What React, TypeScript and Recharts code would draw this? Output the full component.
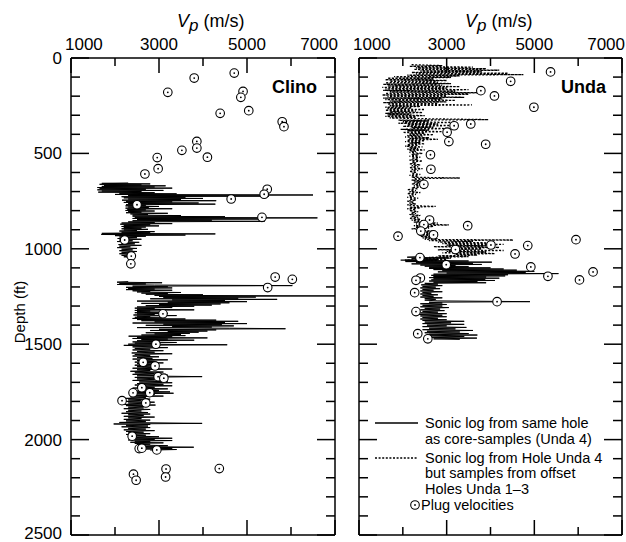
import React from "react";
import { ScatterChart, Scatter, XAxis, YAxis } from "recharts";

const FONT = '"Liberation Sans", Arial, Helvetica, sans-serif';

const vpTicks = [1000, 2000, 3000, 4000, 5000, 6000, 7000];
const depthTicks = [
  0, 100, 200, 300, 400, 500, 600, 700, 800, 900, 1000, 1100, 1200, 1300,
  1400, 1500, 1600, 1700, 1800, 1900, 2000, 2100, 2200, 2300, 2400, 2500,
];

// [depth ft, Vp m/s]
const clinoLogUpper = [
  [655, 2300], [657, 1700], [660, 2800], [662, 1650], [665, 2600], [668, 1750], [670, 3150], [673, 1700],
  [676, 2900], [679, 1600], [682, 3300], [685, 1650], [688, 2700], [691, 1600], [694, 3100], [697, 1700],
  [700, 2600], [703, 1620], [706, 2900], [709, 2100], [712, 3400], [715, 2000], [718, 6500], [721, 2300],
  [724, 5500], [727, 2150], [730, 3600], [733, 2200], [736, 4000], [739, 2300], [742, 3500], [745, 2160],
  [748, 4300], [751, 2250], [754, 3300], [757, 2200], [760, 3900], [763, 2300], [766, 4280], [769, 2250],
  [772, 2700], [775, 2240], [778, 3000], [781, 2300], [784, 2766], [787, 2240], [790, 3300], [793, 2280],
  [796, 2700], [799, 2240], [802, 2900], [805, 2300], [808, 2600], [811, 2250], [814, 3200], [817, 2350],
  [820, 2750], [823, 2400], [826, 3500], [829, 2400], [832, 4500], [835, 2450], [838, 6600], [841, 2400],
  [844, 5400], [847, 2500], [850, 4200], [853, 2400], [856, 5400], [859, 2300], [862, 2900], [865, 2150],
  [868, 3300], [871, 2120], [874, 2800], [877, 2200], [880, 3000], [883, 2150], [886, 2700], [889, 2200],
  [892, 2600], [895, 2150], [898, 2750], [901, 2200], [904, 2500], [907, 2100], [910, 2900], [913, 2150],
  [916, 2800], [919, 1700], [922, 4280], [925, 1690], [928, 3600], [931, 2000], [934, 2700], [938, 2100],
  [942, 2500], [946, 2060], [950, 2600], [954, 2100], [958, 2400], [962, 2050], [966, 2550], [970, 2150],
  [974, 2450], [978, 2080], [982, 2600], [986, 2100], [990, 2350], [994, 2050], [998, 2500], [1002, 2150],
  [1006, 2400], [1010, 2100], [1014, 2500], [1018, 2150], [1022, 2350], [1026, 2100], [1030, 2450],
  [1034, 2150], [1038, 2300], [1042, 2200], [1045, 2350],
];

const clinoLogLower = [
  [1172, 2300], [1175, 2046], [1178, 3070], [1181, 2100], [1184, 2700], [1187, 2050], [1190, 2900],
  [1193, 6030], [1196, 2400], [1199, 3200], [1202, 2250], [1205, 3300], [1208, 2300], [1211, 2900],
  [1214, 2250], [1217, 3300], [1220, 2400], [1223, 2800], [1226, 2500], [1229, 3500], [1232, 2600],
  [1235, 3200], [1238, 2700], [1241, 4000], [1244, 2900], [1247, 7000], [1250, 3000], [1253, 5200],
  [1256, 3100], [1259, 4800], [1262, 2800], [1265, 5685], [1268, 3300], [1271, 4500], [1274, 2500],
  [1277, 5000], [1280, 3200], [1283, 4600], [1286, 2600], [1289, 4400], [1292, 3000], [1295, 4200],
  [1298, 2700], [1301, 3800], [1305, 2500], [1308, 3300], [1311, 2450], [1314, 2900], [1317, 2500],
  [1320, 3800], [1323, 2450], [1326, 2800], [1329, 2500], [1332, 3000], [1335, 2450], [1338, 3200],
  [1341, 2500], [1344, 2900], [1347, 2420], [1350, 3400], [1353, 2500], [1356, 2800], [1359, 2450],
  [1362, 3100], [1365, 2400], [1368, 3600], [1371, 2500], [1374, 4300], [1377, 2600], [1380, 4800],
  [1383, 2900], [1386, 4500], [1389, 2400], [1392, 5000], [1395, 3100], [1398, 4430], [1401, 2700],
  [1404, 4700], [1407, 3300], [1410, 4200], [1413, 2500], [1416, 4600], [1419, 5874], [1422, 3000],
  [1425, 4300], [1428, 2800], [1431, 4100], [1434, 3200], [1437, 3900], [1440, 2700], [1443, 3700],
  [1446, 2900], [1449, 3500], [1452, 2600], [1455, 3600], [1458, 2310], [1461, 3300], [1464, 2500],
  [1467, 4100], [1470, 2400], [1473, 3200], [1476, 2600], [1479, 3800], [1482, 2500], [1485, 3000],
  [1488, 2400], [1491, 3400], [1494, 2450], [1497, 3000], [1500, 2300], [1503, 4550], [1506, 2200],
  [1510, 2900], [1514, 2400], [1518, 3200], [1522, 2450], [1526, 2800], [1530, 2400], [1534, 3100],
  [1538, 2500], [1542, 2900], [1546, 2380], [1550, 3300], [1554, 2450], [1558, 2800], [1562, 2400],
  [1566, 3000], [1570, 2500], [1574, 2850], [1578, 2400], [1582, 3200], [1586, 2500], [1590, 2900],
  [1594, 2450], [1598, 3100], [1602, 2500], [1606, 2850], [1610, 2450], [1614, 3000], [1618, 2500],
  [1622, 2900], [1626, 2400], [1630, 3300], [1634, 2500], [1638, 2800], [1642, 2350], [1646, 3100],
  [1650, 2450], [1654, 2900], [1658, 2400], [1662, 3200], [1666, 2500], [1670, 3980], [1674, 2450],
  [1678, 3000], [1682, 2500], [1686, 2900], [1690, 2400], [1694, 3200], [1698, 2550], [1702, 3300],
  [1706, 2500], [1710, 3100], [1714, 2450], [1718, 3300], [1722, 2500], [1726, 2900], [1730, 2400],
  [1734, 3200], [1738, 2550], [1742, 3000], [1746, 2450], [1750, 3250], [1754, 2500], [1757, 3330],
  [1760, 2400], [1764, 2900], [1768, 2450], [1772, 3100], [1776, 2350], [1780, 2700], [1784, 2200],
  [1788, 2800], [1792, 2300], [1796, 2600], [1800, 2200], [1804, 2900], [1808, 2300], [1812, 2600],
  [1816, 2160], [1819, 2920], [1822, 2250], [1826, 2700], [1830, 2300], [1834, 2650], [1838, 2200],
  [1842, 2800], [1846, 2300], [1850, 2600], [1854, 2250], [1858, 2750], [1862, 2150], [1866, 2800],
  [1870, 2300], [1874, 2650], [1878, 2200], [1882, 2900], [1886, 2300], [1890, 2600], [1894, 2200],
  [1898, 2800], [1902, 2250], [1906, 2700], [1910, 2100], [1915, 3980], [1918, 1970], [1921, 2800],
  [1925, 2250], [1929, 2750], [1933, 2150], [1937, 2800], [1941, 2300], [1945, 2700], [1949, 2200],
  [1953, 2900], [1957, 2250], [1961, 2650], [1965, 2300], [1969, 2800], [1973, 2250], [1977, 2700],
  [1981, 2300], [1985, 3000], [1989, 2350], [1993, 3300], [1996, 2400], [1999, 2900], [2002, 2300],
  [2005, 3300], [2008, 2450], [2011, 2800], [2014, 2350], [2017, 3100], [2020, 2450], [2024, 2800],
  [2028, 2500], [2032, 3200], [2036, 2550], [2040, 3790], [2043, 2600], [2046, 3300], [2049, 2700],
  [2052, 3400], [2055, 2800],
];

const clinoPlugs = [
  [79, 4710], [105, 3800], [180, 3200], [175, 4910], [206, 4860], [276, 5040], [290, 4390], [334, 5800],
  [360, 5840], [437, 3860], [472, 3860], [484, 3520], [520, 4100], [522, 2960], [580, 2980], [608, 2680],
  [688, 5460], [714, 5390], [739, 4640], [769, 2500], [835, 5340], [954, 2220], [1038, 2370], [1079, 2360],
  [1148, 5640], [1160, 6030], [1203, 5470], [1341, 3090], [1500, 2930], [1595, 2640], [1614, 2910],
  [1670, 2980], [1678, 3110], [1728, 2610], [1755, 2410], [1754, 2790], [1796, 2160], [1808, 2700],
  [1982, 2390], [2047, 2550], [2045, 2610], [2054, 2950], [2154, 3160], [2152, 4370], [2181, 2420],
  [2196, 3150], [2213, 2480],
];

const undaLogOffset = [
  [35, 2200], [40, 2900], [44, 2150], [48, 3600], [52, 2300], [56, 3900], [60, 2250], [64, 4200],
  [68, 2400], [72, 3800], [76, 2200], [80, 4400], [84, 2300], [87, 4750], [90, 2100], [94, 3300],
  [98, 1800], [102, 3100], [106, 1650], [110, 2700], [114, 1600], [118, 3000], [122, 1700], [126, 2800],
  [130, 1600], [134, 3100], [138, 1550], [142, 2900], [146, 1650], [150, 3300], [154, 1530], [158, 3000],
  [162, 1600], [166, 3500], [170, 1550], [174, 3200], [178, 1700], [182, 3800], [186, 1600], [190, 3500],
  [194, 1530], [198, 3000], [202, 1650], [206, 3400], [210, 1550], [214, 2900], [218, 1600], [222, 3200],
  [226, 1700], [230, 3000], [234, 1550], [238, 2800], [242, 1650], [246, 3577], [250, 1700], [254, 2400],
  [258, 1600], [262, 2200], [266, 1650], [270, 2500], [274, 1600], [278, 2300], [282, 1700], [286, 2450],
  [290, 1600], [294, 2200], [298, 1650], [302, 2500], [306, 1600], [310, 2300], [314, 1700], [318, 2400],
  [323, 3950], [326, 1900], [330, 2600], [334, 2000], [338, 3100], [342, 1900], [346, 2800], [350, 2100],
  [354, 3200], [358, 2000], [362, 2700], [366, 2200], [370, 3000], [374, 1950], [378, 2600], [382, 2100],
  [386, 2900], [390, 2000], [394, 2500], [398, 2150], [402, 2700], [406, 2100], [410, 2450], [414, 2050],
  [418, 2600], [422, 2150], [426, 2800], [430, 2100], [434, 2500], [438, 2050], [442, 2400], [446, 2150],
  [450, 2500], [454, 2100], [458, 2350], [462, 2050], [466, 2450], [470, 2150], [474, 2350], [478, 2100],
  [482, 2500], [486, 2150], [490, 2300], [495, 2150], [500, 2450], [505, 2200], [510, 2350], [515, 2150],
  [520, 2400], [525, 2200], [530, 2350], [535, 2150], [540, 2450], [545, 2200], [550, 2300], [555, 2150],
  [560, 2400], [565, 2200], [570, 2350], [575, 2150], [580, 2450], [585, 2200], [590, 2350], [595, 2150],
  [600, 2300], [605, 2200], [610, 2400], [615, 2150], [620, 2350], [625, 2200], [629, 3300], [632, 2250],
  [636, 2500], [640, 2200], [645, 2450], [650, 2250], [655, 2550], [660, 2200], [665, 2400], [670, 2250],
  [675, 2500], [680, 2200], [685, 2350], [690, 2100], [695, 2300], [700, 2150], [705, 2400], [710, 2100],
  [715, 2300], [720, 2150], [725, 2250], [730, 2100], [735, 2350], [740, 2150], [745, 2300], [750, 2100],
  [755, 2250], [760, 2150], [765, 2300], [770, 2100], [775, 2350], [778, 2750], [782, 2150], [786, 2400],
  [790, 2100], [795, 2300], [800, 2150], [805, 2350], [810, 2200], [815, 2300], [820, 2150], [825, 2400],
  [830, 2200], [835, 2350], [840, 2150], [845, 2400], [850, 2200], [855, 2600], [860, 2250], [865, 2800],
  [870, 2300], [875, 3050], [879, 2250], [883, 2700], [887, 2300], [891, 2600], [895, 2200], [899, 2500],
  [903, 2400], [907, 2700], [911, 2350], [915, 2800], [919, 2400], [923, 2600], [927, 2350], [931, 2750],
  [935, 2400], [939, 2650], [943, 2450], [947, 2800], [951, 2500], [954, 4520], [957, 2600], [961, 3600],
  [965, 2800], [969, 4000], [973, 2900], [977, 4300], [981, 3000], [985, 3900], [989, 2700], [993, 4200],
  [997, 3100], [1001, 3800], [1005, 2800], [1009, 4300], [1013, 3000], [1017, 3900], [1021, 2900],
  [1025, 4100], [1029, 3200], [1033, 3700], [1037, 2800], [1041, 3500], [1045, 2600], [1049, 3100],
  [1053, 2300], [1057, 3000], [1059, 1950], [1062, 2800],
];

const undaLogSame = [
  [1040, 2500], [1044, 2100], [1048, 3000], [1052, 2200], [1056, 2800], [1060, 2050], [1064, 3500],
  [1067, 2060], [1070, 4030], [1073, 2300], [1076, 3600], [1079, 2200], [1082, 3800], [1085, 2400],
  [1088, 3200], [1091, 2500], [1094, 3500], [1097, 2600], [1100, 4000], [1103, 2600], [1106, 4300],
  [1109, 2700], [1112, 4600], [1115, 2900], [1118, 5000], [1121, 2800], [1124, 4800], [1127, 3000],
  [1130, 5550], [1133, 2700], [1136, 4400], [1139, 2650], [1142, 4335], [1145, 2700], [1148, 3900],
  [1151, 2600], [1154, 4200], [1157, 2700], [1160, 3880], [1163, 2650], [1166, 4100], [1169, 2600],
  [1172, 3700], [1175, 2700], [1178, 3900], [1181, 2500], [1185, 2800], [1189, 2420], [1193, 2900],
  [1197, 2450], [1201, 2750], [1205, 2400], [1209, 2850], [1213, 2450], [1217, 2700], [1221, 2400],
  [1225, 2900], [1229, 2450], [1233, 2650], [1237, 2400], [1241, 2800], [1245, 2450], [1249, 2700],
  [1253, 2400], [1257, 2900], [1261, 2500], [1265, 2750], [1269, 2500], [1273, 2800], [1277, 4900],
  [1280, 2600], [1284, 2900], [1288, 2400], [1292, 3000], [1296, 2450], [1300, 2900], [1304, 2400],
  [1308, 3050], [1312, 2500], [1316, 2850], [1320, 2400], [1324, 2950], [1328, 2450], [1332, 2800],
  [1336, 2400], [1340, 3000], [1344, 2350], [1348, 2900], [1352, 2400], [1356, 3000], [1360, 2450],
  [1364, 2800], [1368, 2400], [1372, 3000], [1376, 2450], [1380, 3400], [1384, 2500], [1388, 3100],
  [1392, 2450], [1396, 3400], [1400, 2550], [1404, 3000], [1408, 2450], [1412, 3450], [1416, 2600],
  [1420, 3200], [1424, 2450], [1428, 3600], [1432, 2550], [1436, 3300], [1440, 2500], [1444, 3500],
  [1448, 2600], [1452, 3700], [1456, 2500], [1460, 3400], [1464, 2600], [1468, 3690], [1472, 2700],
  [1475, 3300],
];

const undaPlugs = [
  [73, 5370], [122, 4460], [171, 3780], [199, 4090], [258, 4990], [355, 3170], [346, 3550], [389, 3010],
  [438, 3050], [452, 3890], [507, 2630], [583, 2640], [662, 2480], [849, 2610], [873, 2480], [879, 3480],
  [934, 1890], [907, 2410], [927, 2700], [952, 5950], [980, 4010], [983, 4850], [1004, 3200], [1027, 4560],
  [1046, 2390], [1083, 2990], [1095, 4920], [1121, 6340], [1144, 5310], [1153, 2400], [1165, 2300],
  [1163, 6030], [1230, 2270], [1277, 4150], [1329, 2300], [1445, 2340], [1472, 2570],
];

const pts = (rows: number[][]) => rows.map(([depth, vp]) => ({ depth, vp }));

const TICK = { stroke: "#000", strokeWidth: 1.5 };
const AXIS_LINE = { stroke: "#000", strokeWidth: 1.5 };

const TopTick = (props: any) => {
  const { x, y, payload } = props;
  const v = payload.value;
  const major = (v / 1000) % 2 === 1;
  let anchor = "middle";
  let tx = x;
  if (v === vpTicks[0]) {
    anchor = "start";
    tx = x - 6;
  } else if (v === vpTicks[vpTicks.length - 1]) {
    anchor = "end";
    tx = x + 3;
  }
  return (
    <g>
      <line x1={x} y1={y} x2={x} y2={y + (major ? 15 : 8)} {...TICK} />
      {major ? (
        <text x={tx} y={y - 8} textAnchor={anchor} fontSize={17} fontFamily={FONT} fill="#000">
          {v}
        </text>
      ) : null}
    </g>
  );
};

const BottomTick = (props: any) => {
  const { x, y, payload } = props;
  const major = (payload.value / 1000) % 2 === 1;
  return <line x1={x} y1={y} x2={x} y2={y - (major ? 15 : 8)} {...TICK} />;
};

const LeftTick = (props: any) => {
  const { x, y, payload, showLabels } = props;
  const v = payload.value;
  const major = v % 500 === 0;
  return (
    <g>
      <line x1={x} y1={y} x2={x + (major ? 18 : 9)} y2={y} {...TICK} />
      {showLabels && major ? (
        <text x={x - 9} y={y + (v === 2500 ? 4 : 6)} textAnchor="end" fontSize={17} fontFamily={FONT} fill="#000">
          {v}
        </text>
      ) : null}
    </g>
  );
};

const RightTick = (props: any) => {
  const { x, y, payload } = props;
  const major = payload.value % 500 === 0;
  return <line x1={x} y1={y} x2={x - (major ? 18 : 9)} y2={y} {...TICK} />;
};

const VpTitle = (props: any) => {
  const { viewBox } = props;
  return (
    <text x={viewBox.x + 106} y={27} fontSize={18} fontFamily={FONT} fill="#000">
      <tspan fontStyle="italic">V</tspan>
      <tspan fontStyle="italic" fontSize={17} dy={4}>p</tspan>
      <tspan dy={-4}> (m/s)</tspan>
    </text>
  );
};

const DepthTitle = () => (
  <text x={25} y={312} transform="rotate(-90 25 312)" textAnchor="middle" fontSize={15} fontFamily={FONT} fill="#000">
    Depth (ft)
  </text>
);

const PlugMarker = (props: any) => {
  const { cx, cy } = props;
  if (cx == null || cy == null) return <g />;
  return (
    <g>
      <circle cx={cx} cy={cy} r={4.3} fill="#fff" stroke="#000" strokeWidth={1.1} />
      <circle cx={cx} cy={cy} r={0.9} fill="#000" />
    </g>
  );
};

const NoDot = () => <g />;

const Panel = ({
  width,
  leftWidth,
  rightWidth,
  showLabels,
  children,
}: {
  width: number;
  leftWidth: number;
  rightWidth: number;
  showLabels: boolean;
  children: React.ReactNode;
}) => (
  <ScatterChart width={width} height={542} margin={{ top: 0, right: 0, bottom: 0, left: 0 }}>
    <XAxis
      xAxisId="top"
      orientation="top"
      type="number"
      dataKey="vp"
      domain={[1000, 7000]}
      allowDataOverflow
      ticks={vpTicks}
      interval={0}
      height={58}
      tickSize={0}
      tickMargin={0}
      tickLine={false}
      axisLine={AXIS_LINE}
      tick={<TopTick />}
      label={<VpTitle />}
    />
    <XAxis
      xAxisId="bottom"
      orientation="bottom"
      type="number"
      dataKey="vp"
      domain={[1000, 7000]}
      allowDataOverflow
      ticks={vpTicks}
      interval={0}
      height={7}
      tickSize={0}
      tickMargin={0}
      tickLine={false}
      axisLine={AXIS_LINE}
      tick={<BottomTick />}
    />
    <YAxis
      yAxisId="left"
      orientation="left"
      type="number"
      dataKey="depth"
      domain={[0, 2500]}
      allowDataOverflow
      reversed
      ticks={depthTicks}
      interval={0}
      width={leftWidth}
      tickSize={0}
      tickMargin={0}
      tickLine={false}
      axisLine={AXIS_LINE}
      tick={<LeftTick showLabels={showLabels} />}
      label={showLabels ? <DepthTitle /> : undefined}
    />
    <YAxis
      yAxisId="right"
      orientation="right"
      type="number"
      dataKey="depth"
      domain={[0, 2500]}
      allowDataOverflow
      reversed
      ticks={depthTicks}
      interval={0}
      width={rightWidth}
      tickSize={0}
      tickMargin={0}
      tickLine={false}
      axisLine={AXIS_LINE}
      tick={<RightTick />}
    />
    {children}
  </ScatterChart>
);

const SOLID = { stroke: "#000", strokeWidth: 1 };
const DOTTED = { stroke: "#000", strokeWidth: 1.3, strokeDasharray: "2 1.6" };

const logSeries = (key: string, rows: number[][], style: any) => (
  <Scatter
    key={key}
    name={key}
    xAxisId="top"
    yAxisId="left"
    data={pts(rows)}
    line={style}
    shape={<NoDot />}
    isAnimationActive={false}
  />
);

const plugSeries = (key: string, rows: number[][]) => (
  <Scatter
    key={key}
    name={key}
    xAxisId="top"
    yAxisId="left"
    data={pts(rows)}
    shape={<PlugMarker />}
    isAnimationActive={false}
  />
);

export default function App() {
  return (
    <div style={{ position: "absolute", left: 0, top: 0, width: 626, height: 542, fontFamily: FONT, background: "#fff" }}>
      <div style={{ position: "absolute", left: 0, top: 0 }}>
        <Panel width={345} leftWidth={71} rightWidth={10} showLabels>
          {logSeries("clinoUpper", clinoLogUpper, SOLID)}
          {logSeries("clinoLower", clinoLogLower, SOLID)}
          {plugSeries("clinoPlugs", clinoPlugs)}
        </Panel>
      </div>
      <div style={{ position: "absolute", left: 345, top: 0 }}>
        <Panel width={281} leftWidth={14} rightWidth={4} showLabels={false}>
          {logSeries("undaOffset", undaLogOffset, DOTTED)}
          {logSeries("undaSame", undaLogSame, SOLID)}
          {plugSeries("undaPlugs", undaPlugs)}
        </Panel>
      </div>
      <svg width={626} height={542} style={{ position: "absolute", left: 0, top: 0, pointerEvents: "none" }}>
        <text x={317} y={93} textAnchor="end" fontSize={18} fontWeight="bold" fontFamily={FONT}>Clino</text>
        <text x={606} y={93} textAnchor="end" fontSize={18} fontWeight="bold" fontFamily={FONT}>Unda</text>
        <g fontSize={14.5} fontFamily={FONT} fill="#000">
          <line x1={375} y1={423} x2={418} y2={423} stroke="#000" strokeWidth={1.5} />
          <text x={425} y={428}>Sonic log from same hole</text>
          <text x={425} y={444}>as core-samples (Unda 4)</text>
          <line x1={375} y1={458} x2={418} y2={458} stroke="#000" strokeWidth={1.3} strokeDasharray="2 1.6" />
          <text x={425} y={463}>Sonic log from Hole Unda 4</text>
          <text x={425} y={478}>but samples from offset</text>
          <text x={425} y={494}>Holes Unda 1–3</text>
          <circle cx={415} cy={505} r={4.3} fill="#fff" stroke="#000" strokeWidth={1.1} />
          <circle cx={415} cy={505} r={0.9} fill="#000" />
          <text x={421} y={510}>Plug velocities</text>
        </g>
      </svg>
    </div>
  );
}
